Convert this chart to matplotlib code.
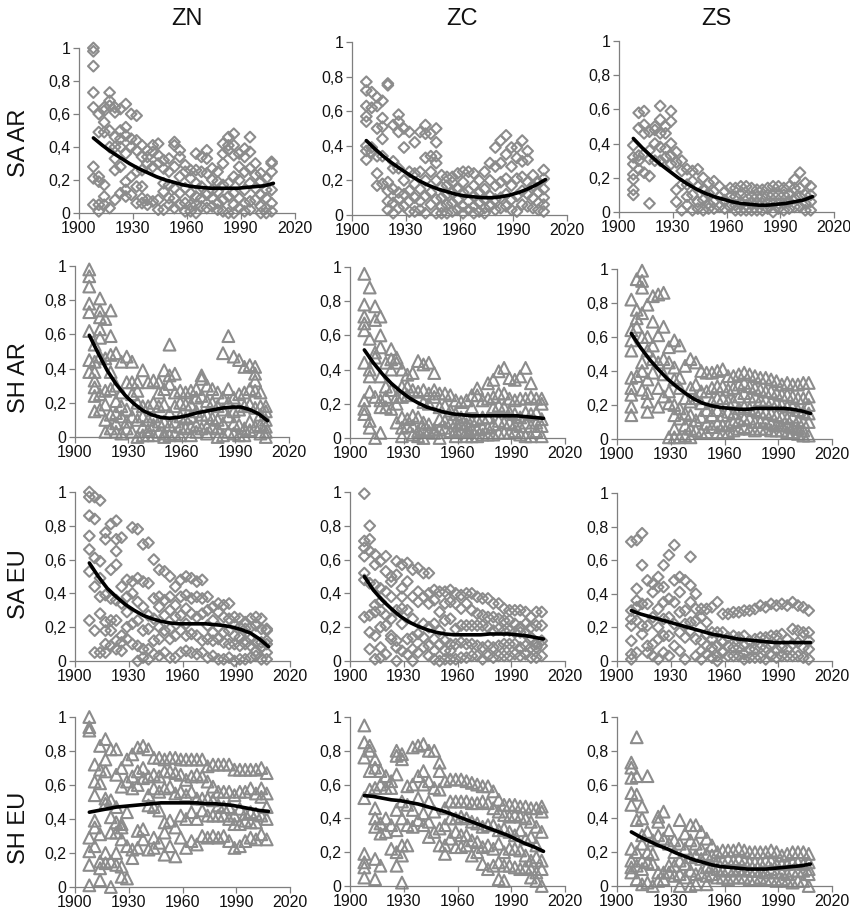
"""Small multiples of yearly values with a fitted trend: zones ZN/ZC/ZS by SA/SH and AR/EU."""

import matplotlib

matplotlib.use("Agg")
import matplotlib.pyplot as plt

plt.rcParams["font.family"] = ["Liberation Sans", "DejaVu Sans"]

COLUMN_YEARS = [1908, 1911, 1914, 1917, 1920, 1923, 1926, 1929, 1932, 1935, 1938, 1941, 1944, 1947, 1950, 1953, 1956,
                1959, 1962, 1965, 1968, 1971, 1974, 1977, 1980, 1983, 1986, 1989, 1992, 1995, 1998, 2001, 2004, 2007]
TREND_YEARS = [1908, 1913, 1918, 1923, 1928, 1933, 1938, 1943, 1948, 1953, 1958, 1963, 1968, 1973, 1978, 1983, 1988,
               1993, 1998, 2003, 2008]
X_TICKS = [1900, 1930, 1960, 1990, 2020]
Y_TICKS = [0, 0.2, 0.4, 0.6, 0.8, 1]
Y_TICK_LABELS = ["0", "0,2", "0,4", "0,6", "0,8", "1"]
COLUMN_TITLES = ["ZN", "ZC", "ZS"]
ROW_TITLES = ["SA AR", "SH AR", "SA EU", "SH EU"]

# values in hundredths, one inner list per entry of COLUMN_YEARS
ZN_SA_AR = [[100, 98, 89, 73, 64, 28, 21, 5], [60, 49, 22, 19, 5, 1], [64, 62, 55, 49, 17, 10, 5],
            [73, 68, 65, 50, 40, 3], [64, 61, 46, 40, 33, 26, 8], [63, 50, 45, 40, 28, 12],
            [66, 52, 47, 36, 19, 14, 10], [60, 45, 40, 22, 11], [59, 44, 38, 25, 16, 6], [41, 34, 26, 16, 9, 6],
            [38, 34, 30, 8, 5], [41, 37, 28, 7], [42, 35, 30, 8, 2], [32, 27, 18, 13, 2], [33, 25, 17, 9, 5],
            [43, 41, 28, 15, 9, 3], [38, 34, 22, 12, 5], [29, 25, 15, 6, 1], [26, 21, 12, 5, 1],
            [36, 26, 18, 10, 5, 0], [34, 25, 16, 9, 4], [38, 33, 24, 11, 3], [27, 20, 14, 9, 4], [25, 19, 13, 6, 2],
            [42, 36, 30, 17, 8, 1], [46, 41, 38, 18, 10, 0], [48, 41, 35, 22, 12, 5, 0], [36, 28, 20, 9, 3],
            [39, 34, 25, 14, 6, 1], [46, 37, 27, 18, 7, 2], [30, 23, 15, 8], [24, 19, 11, 4, 0], [21, 14, 9, 3, 0],
            [31, 30, 25, 14, 6, 1]]
ZC_SA_AR = [[77, 72, 63, 57, 54, 40, 37, 32], [71, 62, 39, 36], [68, 63, 50, 34, 24, 17], [66, 56, 51, 44, 34, 18],
            [76, 75, 19, 14, 8, 3], [52, 31, 27, 15, 7, 1], [58, 54, 48, 27, 13, 9, 4], [50, 39, 20, 12, 5],
            [48, 25, 14, 8, 2], [42, 24, 18, 10, 2], [48, 25, 15, 8, 3], [52, 47, 33, 20, 11, 1],
            [47, 34, 25, 13, 6], [50, 42, 34, 30, 20, 9, 1], [23, 16, 10, 5, 1], [22, 17, 12, 6, 1],
            [22, 19, 13, 7, 2], [24, 15, 9, 3], [25, 19, 13, 5, 1], [25, 14, 8, 3], [24, 17, 11, 5, 1],
            [20, 13, 7, 2], [25, 15, 9, 4, 1], [30, 20, 11, 5], [39, 28, 17, 9, 3], [43, 30, 19, 10, 4],
            [46, 35, 21, 12, 5], [39, 28, 17, 9, 3], [39, 33, 21, 11, 2], [43, 31, 22, 14, 6], [37, 32, 19, 12, 5],
            [23, 17, 10, 4], [19, 13, 7, 3], [26, 21, 15, 10, 6, 2]]
ZS_SA_AR = [[39, 32, 28, 22, 19, 13, 10], [58, 49, 33, 30, 25], [59, 51, 46, 34, 23], [47, 36, 31, 21, 5],
            [50, 48, 40, 30], [62, 54, 46, 38, 30], [50, 46, 37, 32], [59, 53, 40, 33, 28], [35, 29, 13, 6],
            [30, 24, 16, 1], [25, 16, 9, 4], [24, 18, 10, 1], [25, 15, 6, 2], [20, 13, 7, 1], [17, 11, 5, 2],
            [18, 12, 6, 2], [15, 9, 3], [12, 7, 2], [14, 9, 3], [14, 9, 4, 1], [15, 10, 5, 1], [15, 9, 4, 1],
            [14, 9, 5, 1], [13, 9, 5, 1], [13, 9, 5, 1], [14, 10, 5, 2], [15, 10, 5, 0], [15, 10, 5, 2],
            [14, 10, 5, 1], [15, 10, 6, 2], [19, 14, 8, 3], [23, 14, 9, 3], [17, 10, 5, 1], [15, 10, 6, 1]]
ZN_SH_AR = [[98, 94, 88, 78, 73, 62, 45, 38], [54, 44, 38, 33, 29, 24, 15], [81, 74, 70, 63, 58, 47, 25, 16],
            [69, 46, 27, 19, 10, 3], [74, 59, 48, 38, 28, 13, 5], [49, 30, 21, 14, 8, 3], [44, 26, 18, 12, 2],
            [47, 32, 16, 9, 5], [44, 32, 25, 12, 3], [32, 27, 20, 10, 0], [39, 18, 12, 6, 1], [32, 18, 10, 4, 1],
            [33, 20, 12, 7, 1], [32, 26, 18, 9, 3], [39, 28, 19, 9, 2, 0], [54, 36, 31, 14, 7, 1],
            [37, 26, 18, 9, 2], [27, 20, 12, 6, 1], [26, 19, 11, 5], [27, 19, 12, 6, 1], [28, 23, 15, 7, 3],
            [36, 34, 24, 13, 5], [30, 21, 13, 6, 2], [28, 20, 11, 6], [26, 18, 10, 5, 0], [49, 23, 16, 8, 1],
            [59, 28, 20, 12, 3], [47, 23, 15, 8, 2], [45, 25, 16, 7, 1], [41, 26, 18, 5, 1], [42, 28, 19, 9, 4],
            [41, 37, 33, 27, 17, 6], [26, 18, 13, 7, 2], [18, 15, 10, 6, 3, 0]]
ZC_SH_AR = [[96, 78, 71, 67, 63, 44, 22, 17, 14], [88, 58, 40, 36, 27, 10, 6], [77, 69, 50, 47, 24, 0],
            [71, 60, 53, 36, 22, 18, 3], [44, 30, 24, 18], [52, 46, 40, 28, 17], [47, 44, 24, 20, 9],
            [40, 30, 24, 12, 6, 1], [37, 30, 25, 11, 7], [38, 28, 13, 7, 2], [45, 27, 12, 4, 1],
            [43, 28, 21, 9, 5, 0], [44, 26, 20, 8, 4], [38, 28, 24, 5, 3], [26, 18, 11, 5, 0], [26, 19, 10, 6],
            [25, 16, 9, 4], [22, 14, 9, 5, 1], [21, 12, 8, 4], [22, 12, 8, 4, 1], [25, 18, 10, 5, 1],
            [29, 25, 11, 5, 1], [22, 12, 6, 2], [32, 23, 12, 6, 2], [34, 24, 18, 8, 2], [39, 26, 19, 10, 3],
            [41, 26, 18, 9, 3], [35, 23, 15, 9, 3], [34, 22, 14, 8, 4], [36, 23, 12, 7, 2], [41, 23, 15, 9, 1],
            [32, 24, 14, 7, 1], [23, 15, 9, 4], [23, 20, 11, 7, 1]]
ZS_SH_AR = [[82, 64, 58, 52, 36, 30, 26, 19, 14], [94, 76, 71, 66, 37], [99, 93, 89, 74, 60, 45, 40, 29],
            [79, 60, 52, 35, 27, 22, 16], [84, 69, 55, 47, 39], [85, 61, 45, 30, 19], [86, 66, 47, 38, 25],
            [54, 45, 28, 21, 1], [58, 42, 35, 20, 14, 6, 1], [55, 36, 30, 18, 12, 1], [43, 24, 15, 8, 2],
            [47, 30, 22, 14, 6, 1], [45, 32, 24, 11, 5], [40, 28, 21, 13, 4], [39, 28, 17, 9, 4],
            [39, 30, 22, 14, 7], [40, 31, 24, 17, 9, 4], [41, 31, 24, 14, 8, 4], [37, 29, 22, 16, 8, 4],
            [37, 30, 22, 15, 10, 5], [38, 32, 25, 18, 11, 6], [39, 33, 27, 19, 12, 7], [38, 31, 25, 18, 12, 6],
            [37, 30, 25, 17, 10, 5], [36, 29, 23, 16, 10, 6], [36, 28, 23, 16, 10, 6], [35, 28, 22, 15, 9, 5],
            [34, 27, 21, 14, 8, 5], [32, 26, 20, 13, 8, 5], [33, 26, 19, 12, 8, 4], [32, 25, 19, 13, 7, 4],
            [32, 24, 17, 11, 6, 3], [33, 24, 16, 10, 5, 2], [33, 25, 20, 15, 10, 2]]
ZN_SA_EU = [[100, 97, 86, 74, 66, 53, 24], [97, 84, 61, 44, 18, 5], [95, 59, 49, 38, 28, 5],
            [76, 72, 39, 23, 18, 10, 5], [81, 54, 37, 24, 18, 9], [83, 72, 65, 57, 36, 24, 12, 7],
            [73, 44, 34, 15, 11, 6], [48, 38, 29, 20, 13], [79, 47, 40, 22, 10], [78, 49, 35, 24, 9, 0],
            [69, 47, 32, 18, 7, 2], [70, 46, 27, 19, 7, 1], [60, 37, 25, 12, 4], [54, 38, 32, 20, 13, 3],
            [53, 36, 27, 18, 5], [50, 38, 30, 19, 13, 2], [44, 33, 26, 15, 2], [48, 38, 27, 18, 5],
            [50, 39, 31, 22, 15, 6], [49, 37, 28, 16, 5], [47, 38, 26, 15, 4], [48, 37, 28, 12, 5],
            [38, 30, 21, 13, 2], [32, 24, 17, 12, 3], [34, 29, 20, 13, 1], [33, 26, 17, 11, 1], [34, 25, 18, 10, 2],
            [26, 21, 15, 10, 0], [25, 20, 14, 9, 1], [23, 19, 12, 10, 1], [25, 20, 13, 9, 2], [26, 21, 11, 6, 3],
            [25, 19, 11, 8, 1], [19, 18, 12, 10, 5, 1]]
ZC_SA_EU = [[99, 71, 67, 62, 52, 48, 26], [80, 72, 65, 46, 27, 17, 7], [63, 57, 45, 33, 29, 15, 1],
            [59, 43, 35, 30, 20, 8, 2], [62, 53, 41, 27, 21, 4], [50, 47, 38, 25, 15, 13], [59, 51, 30, 12, 8, 0],
            [57, 43, 38, 31, 22, 6], [58, 47, 30, 13, 4], [54, 38, 25, 14, 7, 0], [55, 41, 35, 16, 5],
            [52, 38, 22, 14, 8], [52, 40, 34, 20, 9, 3], [42, 36, 22, 13, 6, 1], [41, 29, 18, 10, 0],
            [41, 34, 24, 12, 6, 1], [42, 35, 25, 10, 6, 1], [40, 34, 19, 10, 1], [39, 31, 21, 11, 2],
            [40, 34, 21, 10, 2], [40, 30, 21, 10, 3], [38, 28, 21, 9, 3], [37, 27, 21, 8, 1], [37, 26, 20, 9, 3],
            [34, 26, 18, 8, 2], [34, 25, 19, 9, 3], [31, 24, 18, 10, 3], [30, 24, 18, 10, 3], [30, 22, 17, 10, 4],
            [30, 20, 17, 8, 3], [29, 22, 16, 9, 4], [26, 20, 14, 8, 2], [29, 21, 10, 8, 2], [29, 21, 12, 9, 3]]
ZS_SA_EU = [[71, 30, 25, 21, 12, 4, 1], [72, 43, 36, 32, 24, 5], [76, 57, 34, 21, 16], [48, 34, 21, 9, 5],
            [46, 41, 26, 10, 3], [50, 44, 31, 20, 13, 1], [57, 44, 35, 25, 15, 5], [63, 37, 26, 15, 3],
            [69, 48, 35, 22, 9], [50, 41, 29, 17, 6], [48, 30, 22, 14, 1], [62, 45, 35, 23, 18],
            [40, 31, 24, 13, 3], [31, 26, 12, 6, 1], [31, 23, 16, 9, 4], [32, 17, 13, 8, 2], [35, 17, 9, 3, 0],
            [28, 17, 11, 5], [28, 14, 9, 3], [29, 15, 8, 3], [29, 14, 8, 3], [30, 15, 9, 4, 1], [30, 12, 7, 2],
            [31, 13, 7, 2], [33, 14, 8, 2], [32, 14, 8, 1], [34, 15, 9, 3], [33, 15, 7, 2], [34, 16, 8, 3],
            [33, 13, 7, 3], [35, 19, 10, 3], [33, 18, 11, 3], [32, 17, 8, 2], [30, 17, 12, 7, 1]]
ZN_SH_EU = [[100, 94, 92, 29, 21, 13, 1], [72, 62, 54, 39, 35, 24], [83, 69, 61, 31, 15, 11, 4],
            [87, 75, 68, 52, 49, 20, 14], [81, 51, 41, 32, 15, 0], [81, 66, 47, 38, 32, 20, 13],
            [70, 59, 37, 35, 28, 12, 6], [75, 62, 44, 24, 5], [78, 65, 58, 22, 17], [82, 68, 60, 33, 23],
            [83, 70, 64, 34, 28], [81, 65, 54, 48, 22], [76, 66, 58, 47, 29, 23], [76, 65, 56, 45, 26],
            [75, 68, 58, 38, 32, 19], [76, 68, 59, 39, 24], [76, 67, 55, 35, 18], [75, 66, 56, 42, 29],
            [75, 63, 54, 40, 23], [75, 65, 56, 44, 27], [75, 66, 52, 40, 25], [75, 65, 52, 45, 30],
            [71, 62, 52, 42, 29], [72, 59, 51, 42, 30], [72, 56, 48, 42, 29], [72, 56, 47, 42, 30],
            [72, 56, 47, 40, 27], [69, 54, 42, 37, 23], [69, 56, 46, 37, 24], [69, 56, 43, 39, 27],
            [69, 58, 44, 38, 29], [69, 55, 43, 38, 28], [70, 58, 53, 42, 31], [67, 55, 47, 40, 28]]
ZC_SH_EU = [[95, 85, 76, 52, 19, 14, 11, 5], [83, 80, 68, 57], [75, 70, 58, 46, 40, 35, 16, 4],
            [68, 60, 37, 31, 12], [65, 58, 40, 32], [62, 58, 36, 22], [80, 77, 66, 45, 33, 20, 12],
            [78, 75, 50, 40, 24, 18, 2], [59, 48, 36, 24], [82, 60, 45, 35], [83, 65, 52, 39],
            [84, 68, 60, 43, 36], [80, 62, 50, 38, 29], [80, 58, 44, 32], [73, 68, 57, 34, 24],
            [62, 46, 36, 24, 19], [63, 50, 40, 28], [63, 50, 40, 32, 23], [63, 50, 41, 30, 23],
            [62, 50, 40, 30, 24], [61, 49, 38, 27, 18], [60, 49, 37, 26, 20], [59, 50, 35, 23, 13],
            [59, 49, 36, 24, 10], [56, 46, 36, 22, 12], [51, 44, 33, 25, 14, 4], [48, 42, 34, 20, 12, 3],
            [48, 41, 32, 22, 12], [48, 42, 30, 22, 11], [47, 41, 33, 21, 10], [47, 40, 28, 18, 11],
            [46, 38, 29, 15, 10, 5], [46, 35, 24, 17, 8, 3], [47, 44, 32, 15, 10, 0]]
ZS_SH_EU = [[73, 70, 64, 55, 48, 22, 15, 11, 8], [88, 65, 54, 39, 20, 12, 4], [47, 40, 30, 25, 15, 10, 1],
            [65, 32, 20, 14, 2], [27, 19, 13, 0], [41, 38, 30, 8, 3], [44, 28, 8, 4], [33, 25, 12, 8],
            [27, 20, 12, 6], [39, 25, 15, 7, 0], [31, 22, 13, 5], [36, 27, 17, 9, 0], [36, 25, 18, 7, 1],
            [32, 22, 16, 8], [28, 19, 11, 6, 1], [24, 18, 12, 7], [20, 15, 10, 5], [21, 15, 9, 5], [21, 16, 10, 4],
            [21, 15, 9, 5], [22, 16, 10, 5], [21, 15, 10, 5], [20, 14, 9, 4], [20, 14, 9, 4], [20, 14, 9, 5],
            [20, 15, 8, 4], [21, 15, 10, 4], [20, 13, 8, 3], [18, 13, 8, 4], [19, 13, 7, 3], [20, 14, 9, 2],
            [20, 14, 9, 3], [20, 13, 9, 3], [19, 14, 10, 7, 0]]

# trend curves, one value per entry of TREND_YEARS
ZN_SA_AR_TREND = [.455, .41, .37, .335, .30, .27, .245, .22, .20, .185, .17, .16, .155, .15, .15, .15, .15, .155, .16, .165, .18]
ZC_SA_AR_TREND = [.43, .38, .335, .295, .26, .225, .195, .17, .15, .135, .12, .11, .105, .10, .10, .105, .115, .13, .15, .175, .205]
ZS_SA_AR_TREND = [.43, .375, .325, .28, .24, .20, .165, .135, .11, .09, .075, .06, .05, .045, .04, .04, .045, .05, .06, .07, .09]
ZN_SH_AR_TREND = [.595, .49, .39, .31, .245, .195, .155, .13, .115, .11, .115, .125, .14, .15, .16, .17, .175, .175, .16, .135, .095]
ZC_SH_AR_TREND = [.515, .44, .375, .32, .275, .235, .205, .18, .165, .15, .14, .135, .13, .13, .13, .13, .13, .13, .125, .12, .115]
ZS_SH_AR_TREND = [.62, .54, .47, .41, .355, .31, .27, .235, .21, .195, .185, .18, .175, .175, .18, .18, .18, .18, .175, .165, .15]
ZN_SA_EU_TREND = [.58, .50, .43, .38, .335, .30, .27, .25, .235, .225, .22, .22, .22, .22, .215, .21, .20, .185, .165, .13, .085]
ZC_SA_EU_TREND = [.50, .42, .36, .31, .265, .23, .205, .185, .17, .16, .155, .155, .155, .155, .16, .16, .16, .155, .15, .14, .13]
ZS_SA_EU_TREND = [.30, .28, .265, .25, .235, .22, .205, .19, .175, .16, .15, .14, .13, .125, .12, .115, .11, .11, .11, .11, .11]
ZN_SH_EU_TREND = [.44, .45, .46, .47, .475, .48, .485, .49, .495, .495, .495, .495, .495, .49, .49, .485, .48, .47, .46, .45, .445]
ZC_SH_EU_TREND = [.535, .53, .52, .51, .505, .495, .485, .47, .455, .44, .42, .40, .38, .36, .34, .32, .30, .275, .25, .23, .205]
ZS_SH_EU_TREND = [.32, .29, .265, .24, .22, .195, .175, .155, .14, .125, .115, .11, .105, .10, .10, .10, .105, .11, .115, .12, .13]

PANELS = [
    [(ZN_SA_AR, ZN_SA_AR_TREND), (ZC_SA_AR, ZC_SA_AR_TREND), (ZS_SA_AR, ZS_SA_AR_TREND)],
    [(ZN_SH_AR, ZN_SH_AR_TREND), (ZC_SH_AR, ZC_SH_AR_TREND), (ZS_SH_AR, ZS_SH_AR_TREND)],
    [(ZN_SA_EU, ZN_SA_EU_TREND), (ZC_SA_EU, ZC_SA_EU_TREND), (ZS_SA_EU, ZS_SA_EU_TREND)],
    [(ZN_SH_EU, ZN_SH_EU_TREND), (ZC_SH_EU, ZC_SH_EU_TREND), (ZS_SH_EU, ZS_SH_EU_TREND)],
]

# axes boxes in image pixels: left, right, y of value 1, y of value 0
BOXES = [
    [(79, 295, 48, 213), (352, 567, 42, 215), (619, 834, 41, 212)],
    [(75, 289, 266, 437), (350, 565, 267, 438), (617, 832, 269, 439)],
    [(75, 290, 492, 661), (350, 565, 492, 661), (617, 832, 493, 661)],
    [(75, 290, 717, 887), (350, 565, 717, 886), (617, 832, 717, 886)],
]
ROW_LABEL_Y = [143, 378, 584, 828]
TITLE_X = [187, 462, 716]

GREY = "#8c8c8c"
AXIS_GREY = "#7f7f7f"
W, H = 850, 913

fig = plt.figure(figsize=(W / 100, H / 100), dpi=100)

for r, row in enumerate(PANELS):
    for c, (columns, trend) in enumerate(row):
        left, right, top, bottom = BOXES[r][c]
        ax = fig.add_axes([left / W, 1 - bottom / H, (right - left) / W, (bottom - top) / H])
        xs = [yr for yr, vals in zip(COLUMN_YEARS, columns) for _ in vals]
        ys = [v / 100 for vals in columns for v in vals]
        # SA rows use diamonds, SH rows triangles
        if r % 2 == 0:
            ax.scatter(xs, ys, marker="D", s=30, facecolors="none", edgecolors=GREY, linewidths=1.5, clip_on=False)
        else:
            ax.scatter(xs, ys, marker="^", s=72, facecolors="none", edgecolors=GREY, linewidths=1.5, clip_on=False)
        ax.plot(TREND_YEARS, trend, color="black", lw=2.6, solid_capstyle="round", zorder=5)

        ax.set_xlim(1900, 2020)
        ax.set_ylim(0, 1)
        ax.set_xticks(X_TICKS)
        ax.set_yticks(Y_TICKS)
        ax.set_yticklabels(Y_TICK_LABELS)
        ax.tick_params(labelsize=11.5, color=AXIS_GREY, length=4, width=0.9, pad=2, labelcolor="#111111")
        for side in ("top", "right"):
            ax.spines[side].set_visible(False)
        for side in ("left", "bottom"):
            ax.spines[side].set_color(AXIS_GREY)
            ax.spines[side].set_linewidth(0.9)

for x, title in zip(TITLE_X, COLUMN_TITLES):
    fig.text(x / W, 1 - 19 / H, title, ha="center", va="center", fontsize=17, color="#111111")
for y, label in zip(ROW_LABEL_Y, ROW_TITLES):
    fig.text(19 / W, 1 - y / H, label, ha="center", va="center", rotation=90, fontsize=17, color="#111111")

fig.savefig("out.png", dpi=100)
plt.close(fig)
